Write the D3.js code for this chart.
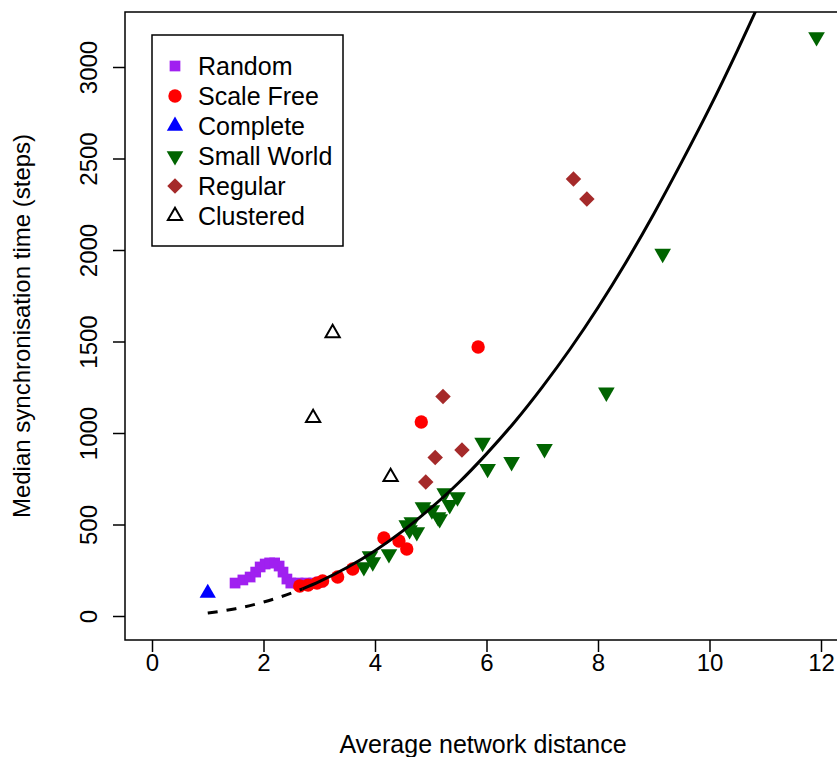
<!DOCTYPE html>
<html>
<head>
<meta charset="utf-8">
<script src="https://cdn.jsdelivr.net/npm/d3@7"></script>
<style>
  body { margin: 0; background: #fff; }
  svg { display: block; }
  text { font-family: "Liberation Sans", Arial, sans-serif; }
</style>
</head>
<body>
<svg id="svg" width="837" height="757"></svg>
<script>
    // data
    var randomX = [1.49, 1.63, 1.76, 1.86, 1.94, 2.03, 2.11, 2.20, 2.28, 2.35, 2.42, 2.49, 2.62, 2.76, 2.90, 3.01];
    var randomY = [180, 197, 213, 240, 268, 284, 290, 290, 273, 240, 202, 180, 180, 180, 180, 186];

    var scaleFreeX = [2.65, 2.80, 2.96, 3.06, 3.33, 3.60, 4.16, 4.43, 4.57, 4.83, 5.85];
    var scaleFreeY = [164, 169, 180, 191, 213, 257, 426, 410, 366, 1060, 1470];

    var completeX = [1.0];
    var completeY = [125];

    var smallWorldX = [11.92, 9.16, 8.15, 7.04, 6.45, 6.02, 5.93, 5.48, 5.25, 5.34, 5.13, 5.02, 4.86,
        4.66, 4.57, 4.75, 4.62, 4.25, 3.91, 3.96, 3.80, 5.16];
    var smallWorldY = [3164, 1980, 1222, 913, 842, 805, 948, 650, 672, 607, 541, 579, 596,
        514, 497, 459, 470, 339, 328, 295, 268, 530];

    var regularX = [7.56, 7.80, 5.22, 5.56, 5.08, 4.91];
    var regularY = [2388, 2279, 1199, 907, 866, 732];

    var clusteredX = [3.24, 2.89, 4.28];
    var clusteredY = [1546, 1082, 760];

    // fitted curve, dashed part then solid part
    var fitDashX = [1.0, 1.5, 2.0, 2.5, 2.7];
    var fitDashY = [16, 40, 76, 125, 148];
    var fitSolidX = [2.7, 3.0, 3.5, 4.0, 4.5, 5.0, 5.5, 6.0, 6.5, 7.0, 7.5, 8.0, 8.5, 9.0, 9.5, 10.0, 10.5, 11.0];
    var fitSolidY = [148, 188, 265, 357, 465, 589, 728, 886, 1059, 1251, 1459, 1686, 1932, 2197, 2480, 2775, 3090, 3420];

    var xTicks = [0, 2, 4, 6, 8, 10, 12];
    var yTicks = [0, 500, 1000, 1500, 2000, 2500, 3000];

    var legendLabels = ["Random", "Scale Free", "Complete", "Small World", "Regular", "Clustered"];

    var font = "Liberation Sans, Arial, sans-serif";
    var svg = d3.select("#svg");

    var x = d3.scaleLinear().domain([0, 12]).range([152, 821]);
    var y = d3.scaleLinear().domain([0, 3000]).range([616, 67]);

    var box = { left: 125, top: 12, right: 870, bottom: 640 };

    svg.append("defs").append("clipPath").attr("id", "plotclip")
        .append("rect")
        .attr("x", box.left).attr("y", box.top)
        .attr("width", box.right - box.left).attr("height", box.bottom - box.top);

    // point styles
    var styles = [
        { type: d3.symbolSquare, size: 115, fill: "#A020F0", stroke: "none", rot: 0 },
        { type: d3.symbolCircle, size: 140, fill: "#FF0000", stroke: "none", rot: 0 },
        { type: d3.symbolTriangle, size: 115, fill: "#0000FF", stroke: "none", rot: 0 },
        { type: d3.symbolTriangle, size: 120, fill: "#006400", stroke: "none", rot: 180 },
        { type: d3.symbolSquare, size: 120, fill: "#A52A2A", stroke: "none", rot: 45 },
        { type: d3.symbolTriangle, size: 88, fill: "none", stroke: "#000", rot: 0 }
    ];

    function zip(xs, ys) {
        return xs.map(function (v, i) { return { x: v, y: ys[i] }; });
    }

    var series = [
        zip(randomX, randomY),
        zip(scaleFreeX, scaleFreeY),
        zip(completeX, completeY),
        zip(smallWorldX, smallWorldY),
        zip(regularX, regularY),
        zip(clusteredX, clusteredY)
    ];

    var plot = svg.append("g").attr("clip-path", "url(#plotclip)");

    series.forEach(function (pts, i) {
        var st = styles[i];
        plot.append("g").selectAll("path")
            .data(pts)
            .enter()
            .append("path")
            .attr("d", d3.symbol().type(st.type).size(st.size))
            .attr("transform", function (d) {
                return "translate(" + x(d.x) + "," + y(d.y) + ") rotate(" + st.rot + ")";
            })
            .attr("fill", st.fill)
            .attr("stroke", st.stroke)
            .attr("stroke-width", 2);
    });

    var line = d3.line()
        .x(function (d) { return x(d.x); })
        .y(function (d) { return y(d.y); })
        .curve(d3.curveMonotoneX);

    plot.append("path")
        .datum(zip(fitDashX, fitDashY))
        .attr("d", line)
        .attr("fill", "none")
        .attr("stroke", "#000")
        .attr("stroke-width", 3)
        .attr("stroke-dasharray", "10,9");

    plot.append("path")
        .datum(zip(fitSolidX, fitSolidY))
        .attr("d", line)
        .attr("fill", "none")
        .attr("stroke", "#000")
        .attr("stroke-width", 3);

    // box
    svg.append("rect")
        .attr("x", box.left).attr("y", box.top)
        .attr("width", box.right - box.left).attr("height", box.bottom - box.top)
        .attr("fill", "none")
        .attr("stroke", "#000")
        .attr("stroke-width", 1.5);

    // axes
    var xAxis = svg.append("g")
        .attr("transform", "translate(0," + box.bottom + ")")
        .call(d3.axisBottom(x).tickValues(xTicks).tickSize(12).tickSizeOuter(0).tickPadding(2));
    xAxis.select(".domain").remove();
    xAxis.selectAll("line").attr("stroke-width", 1.5);
    xAxis.selectAll("text").attr("font-size", "24px").attr("font-family", font).attr("fill", "#000");

    var yAxis = svg.append("g")
        .attr("transform", "translate(" + box.left + ",0)")
        .call(d3.axisLeft(y).tickValues(yTicks).tickSize(12).tickSizeOuter(0));
    yAxis.select(".domain").remove();
    yAxis.selectAll("line").attr("stroke-width", 1.5);
    yAxis.selectAll("text").remove();
    yAxis.selectAll(".tick").append("text")
        .attr("transform", "translate(-28,0) rotate(-90)")
        .attr("text-anchor", "middle")
        .attr("font-size", "24px")
        .attr("font-family", font)
        .attr("fill", "#000")
        .text(function (d) { return d; });

    // axis titles
    svg.append("text")
        .attr("x", 483)
        .attr("y", 753)
        .attr("text-anchor", "middle")
        .attr("font-size", "25px")
        .attr("font-family", font)
        .text("Average network distance");

    svg.append("text")
        .attr("transform", "translate(30,326) rotate(-90)")
        .attr("text-anchor", "middle")
        .attr("font-size", "24px")
        .attr("font-family", font)
        .text("Median synchronisation time (steps)");

    // legend
    var legend = svg.append("g");
    legend.append("rect")
        .attr("x", 152).attr("y", 35)
        .attr("width", 191).attr("height", 211)
        .attr("fill", "#fff")
        .attr("stroke", "#000")
        .attr("stroke-width", 1.5);

    var rows = legend.selectAll("g.row")
        .data(legendLabels)
        .enter()
        .append("g")
        .attr("class", "row")
        .attr("transform", function (d, i) { return "translate(0," + (66 + i * 30) + ")"; });

    rows.append("path")
        .attr("d", function (d, i) { return d3.symbol().type(styles[i].type).size(styles[i].size)(); })
        .attr("transform", function (d, i) { return "translate(175,0) rotate(" + styles[i].rot + ")"; })
        .attr("fill", function (d, i) { return styles[i].fill; })
        .attr("stroke", function (d, i) { return styles[i].stroke; })
        .attr("stroke-width", 2);

    rows.append("text")
        .attr("x", 198)
        .attr("y", 9)
        .attr("font-size", "25px")
        .attr("font-family", font)
        .text(function (d) { return d; });
</script>
</body>
</html>
